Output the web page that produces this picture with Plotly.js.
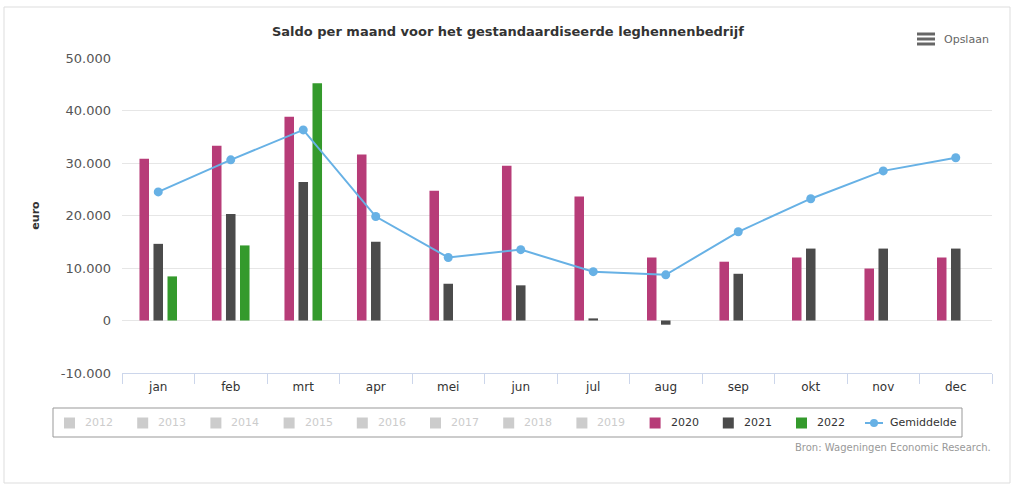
<!DOCTYPE html>
<html><head><meta charset="utf-8">
<script src="https://cdn.plot.ly/plotly-3.0.1.min.js"></script>
<style>html,body{margin:0;padding:0;background:#fff}#chart{width:1024px;height:490px}</style>
</head><body><div id="chart"></div>
<script>
const months = ['jan','feb','mrt','apr','mei','jun','jul','aug','sep','okt','nov','dec'];
const saldo2020 = [30800, 33300, 38800, 31600, 24700, 29500, 23600, 12000, 11200, 12000, 9900, 12000];
const saldo2021 = [14600, 20300, 26400, 15000, 7000, 6700, 400, -800, 8900, 13700, 13700, 13700];
const saldo2022 = [8400, 14300, 45200, null, null, null, null, null, null, null, null, null];
const gemiddelde = [24500, 30600, 36300, 19800, 12000, 13500, 9300, 8700, 16900, 23200, 28500, 31000];
const legendYears = ['2012','2013','2014','2015','2016','2017','2018','2019','2020','2021','2022'];
const legendActive = [false,false,false,false,false,false,false,false,true,true,true];
const colors = {'2020':'#b73c78','2021':'#4b4b4b','2022':'#349a2c', gem:'#67b1e5'};

const font = 'DejaVu Sans, Verdana, sans-serif';
const traces = [
  {type:'bar', name:'2020', x:months, y:saldo2020, marker:{color:colors['2020']}, hoverinfo:'y'},
  {type:'bar', name:'2021', x:months, y:saldo2021, marker:{color:colors['2021']}, hoverinfo:'y'},
  {type:'bar', name:'2022', x:months, y:saldo2022, marker:{color:colors['2022']}, hoverinfo:'y'},
  {type:'scatter', mode:'lines+markers', name:'Gemiddelde', x:months, y:gemiddelde,
   line:{color:colors.gem, width:2}, marker:{color:colors.gem, size:9}}
];

// pixel helpers for paper coordinates
const L=122, R=992, T=58, B=373;
const px = x => (x-L)/(R-L);
const py = y => (B-y)/(B-T);

const shapes = [
  {type:'rect', xref:'paper', yref:'paper', x0:px(4), x1:px(1010), y0:py(7), y1:py(483), line:{color:'#dddddd', width:1}, layer:'below'},
  {type:'rect', xref:'paper', yref:'paper', x0:px(53), x1:px(962), y0:py(408), y1:py(437), line:{color:'#999999', width:1}},
];
// hamburger icon
[34,39,44].forEach(y => shapes.push({type:'line', xref:'paper', yref:'paper', x0:px(917), x1:px(935), y0:py(y), y1:py(y), line:{color:'#666666', width:3}}));

const annotations = [
  {xref:'paper', yref:'paper', x:px(942), y:py(39), text:'Opslaan', showarrow:false, xanchor:'left', yanchor:'middle', font:{family:font, size:11, color:'#666666'}},
  {xref:'paper', yref:'paper', x:px(993), y:py(447), text:'Bron: Wageningen Economic Research.', showarrow:false, xanchor:'right', yanchor:'middle', font:{family:font, size:10, color:'#999999'}},
];
// custom legend
legendYears.forEach((yr,i) => {
  const sx = 64 + i*73.2;
  const col = legendActive[i] ? colors[yr] : '#cccccc';
  shapes.push({type:'rect', xref:'paper', yref:'paper', x0:px(sx), x1:px(sx+11), y0:py(417.5), y1:py(428.5), fillcolor:col, line:{width:0}});
  annotations.push({xref:'paper', yref:'paper', x:px(sx+19), y:py(423), text:yr, showarrow:false, xanchor:'left', yanchor:'middle',
    font:{family:font, size:11, color: legendActive[i] ? '#333333' : '#cccccc'}});
});
shapes.push({type:'line', xref:'paper', yref:'paper', x0:px(865), x1:px(883), y0:py(423), y1:py(423), line:{color:colors.gem, width:2}});
shapes.push({type:'circle', xref:'paper', yref:'paper', x0:px(870), x1:px(878), y0:py(419), y1:py(427), fillcolor:colors.gem, line:{width:0}});
annotations.push({xref:'paper', yref:'paper', x:px(888), y:py(423), text:'Gemiddelde', showarrow:false, xanchor:'left', yanchor:'middle', font:{family:font, size:11, color:'#333333'}});

const layout = {
  width:1024, height:490,
  margin:{l:L, r:1024-R, t:T, b:490-B},
  paper_bgcolor:'#ffffff', plot_bgcolor:'#ffffff',
  font:{family:font, color:'#333333'},
  title:{text:'<b>Saldo per maand voor het gestandaardiseerde leghennenbedrijf</b>', x:0.496, xref:'container', xanchor:'center', y:1-31/490, yref:'container', yanchor:'middle', font:{family:font, size:13, color:'#333333'}},
  showlegend:false,
  barmode:'group', bargap:0.42, bargroupgap:0.32,
  xaxis:{type:'category', range:[-0.5, 11.5], showline:true, linecolor:'#ccd6eb', linewidth:1, ticks:'outside', tickson:'boundaries', ticklen:10, tickcolor:'#ccd6eb',
    showgrid:false, ticklabelstandoff:3, tickfont:{family:font, size:12, color:'#333333'}, fixedrange:true},
  yaxis:{range:[-10000,50000], tickvals:[-10000,0,10000,20000,30000,40000,50000], ticktext:['-10.000','0','10.000','20.000','30.000','40.000','50.000'],
    showgrid:true, gridcolor:'#e6e6e6', zeroline:true, zerolinecolor:'#e6e6e6', zerolinewidth:1, ticks:'', ticklabelstandoff:10,
    tickfont:{family:font, size:13, color:'#555555'},
    title:{text:'<b>euro</b>', standoff:18, font:{family:font, size:11, color:'#333333'}}, fixedrange:true},
  shapes, annotations
};
Plotly.newPlot('chart', traces, layout, {displayModeBar:false, staticPlot:true});
</script></body></html>
